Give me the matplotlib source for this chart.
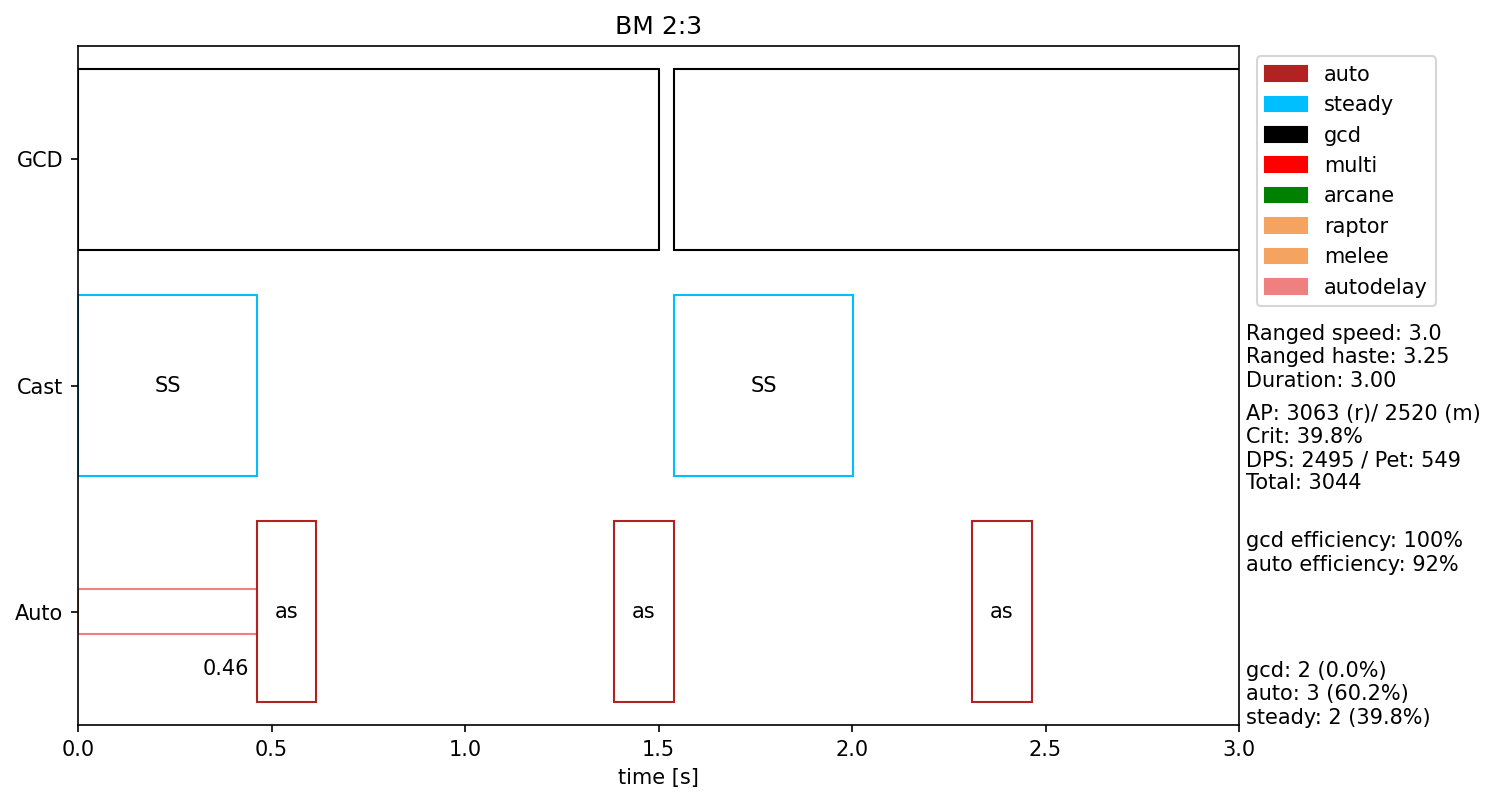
import matplotlib
matplotlib.use('Agg')
import matplotlib.pyplot as plt
import matplotlib.patches as mpatches

# timeline data
rows = ['Auto', 'Cast', 'GCD']
gcd_start = [0.0, 1.54]
gcd_len = [1.5, 1.5]
cast_start = [0.0, 1.54]
cast_end = [0.462, 2.002]
cast_label = ['SS', 'SS']
auto_start = [0.462, 1.385, 2.31]
auto_end = [0.615, 1.54, 2.465]
auto_label = ['as', 'as', 'as']
delay_start = [0.0]
delay_end = [0.462]

legend_names = ['auto', 'steady', 'gcd', 'multi', 'arcane', 'raptor', 'melee', 'autodelay']
legend_colors = ['firebrick', 'deepskyblue', 'black', 'red', 'green', 'sandybrown', 'sandybrown', 'lightcoral']

info1 = 'Ranged speed: 3.0\nRanged haste: 3.25\nDuration: 3.00'
info2 = 'AP: 3063 (r)/ 2520 (m)\nCrit: 39.8%\nDPS: 2495 / Pet: 549\nTotal: 3044'
info3 = 'gcd efficiency: 100%\nauto efficiency: 92%'
info4 = 'gcd: 2 (0.0%)\nauto: 3 (60.2%)\nsteady: 2 (39.8%)'

fig = plt.figure(figsize=(1495/150, 803/150), dpi=150)
ax = fig.add_axes([78/1495, 78/803, 1161/1495, 679/803])

h = 0.8
for s, l in zip(gcd_start, gcd_len):
    ax.add_patch(mpatches.Rectangle((s, 2 - h/2), l, h, fill=False, edgecolor='black', lw=1))

for s, e, t in zip(cast_start, cast_end, cast_label):
    ax.add_patch(mpatches.Rectangle((s, 1 - h/2), e - s, h, fill=False, edgecolor='deepskyblue', lw=1))
    ax.text((s + e)/2, 1, t, ha='center', va='center', fontsize=10)

for s, e in zip(delay_start, delay_end):
    ax.add_patch(mpatches.Rectangle((s, -0.1), e - s, 0.2, fill=False, edgecolor='lightcoral', lw=1))
    ax.text(e - 0.02, -0.253, '%.2f' % (e - s), ha='right', va='center', fontsize=10)

for s, e, t in zip(auto_start, auto_end, auto_label):
    ax.add_patch(mpatches.Rectangle((s, -h/2), e - s, h, fill=False, edgecolor='firebrick', lw=1))
    ax.text((s + e)/2, 0, t, ha='center', va='center', fontsize=10)

ax.set_xlim(0, 3)
ax.set_ylim(-0.5, 2.5)
ax.set_yticks([0, 1, 2])
ax.set_yticklabels(rows)
ax.set_xlabel('time [s]')
ax.set_title('BM 2:3')

ax.text(3.018, 1.124, info1, va='center', ha='left', fontsize=10)
ax.text(3.018, 0.722, info2, va='center', ha='left', fontsize=10)
ax.text(3.018, 0.26, info3, va='center', ha='left', fontsize=10)
ax.text(3.018, -0.365, info4, va='center', ha='left', fontsize=10)

handles = [mpatches.Patch(color=c, label=n) for n, c in zip(legend_names, legend_colors)]
ax.legend(handles=handles, loc='upper left', bbox_to_anchor=(1.0066, 1.0))

plt.savefig('out.png', dpi=150)
